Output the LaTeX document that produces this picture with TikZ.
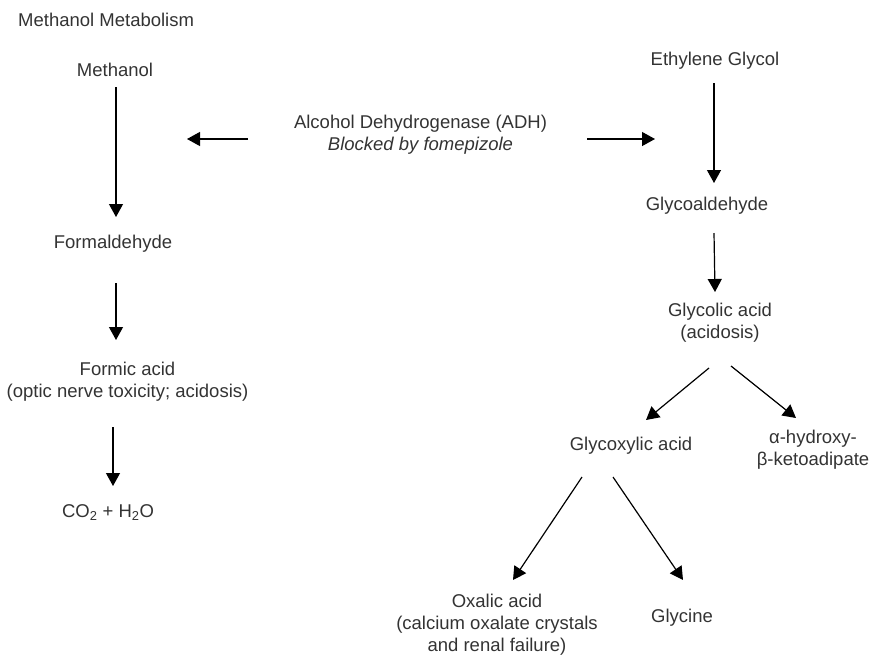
\documentclass[tikz,border=0pt]{standalone}
\usepackage{fontspec}
\setmainfont{Liberation Sans}
\usetikzlibrary{arrows.meta,calc}
\definecolor{txtgray}{HTML}{333333}

\begin{document}
\begin{tikzpicture}[x=1pt,y=-1pt]
            \tikzstyle{every node}+=[inner sep=0pt, text=txtgray, align=center, anchor=base, font=\fontsize{18.5}{22}\selectfont]
            \tikzstyle{arr}=[black, line width=1.2pt, -{Triangle[length=13pt,width=14pt]}]
            \useasboundingbox (0,0) rectangle (869,657);
            % methanol side
            \node [anchor=base west] (title) at (18,26) {Methanol Metabolism};
            \node (methanol) at (115,76) {Methanol};
            \node (formald) at (113,248) {Formaldehyde};
            \node (formic) at (127.5,397) {Formic acid\\(optic nerve toxicity; acidosis)};
            \node (co2) at (108,517) {CO\textsubscript{2} + H\textsubscript{2}O};
            % enzyme
            \node (adh) at (420.5,150) {Alcohol Dehydrogenase (ADH)\\\textit{Blocked by fomepizole}};
            % ethylene glycol side
            \node (ethylene) at (715,65) {Ethylene Glycol};
            \node (glycoald) at (707,210) {Glycoaldehyde};
            \node (glycolic) at (720,338) {Glycolic acid\\(acidosis)};
            \node (glycox) at (631,450) {Glycoxylic acid};
            \node (hydroxy) at (813,465) {α-hydroxy-\\β-ketoadipate};
            \node (oxalic) at (497,651) {Oxalic acid\\(calcium oxalate crystals\\and renal failure)};
            \node (glycine) at (682,622) {Glycine};
            % arrows
            \draw [arr] ($(methanol.base)+(1,11)$) -- ($(formald.base)+(3,-31)$);
            \draw [arr] ($(formald.base)+(3,35)$) -- ($(formic.base)+(-11.5,-57)$);
            \draw [arr] ($(formic.base)+(-14.5,30)$) -- ($(co2.base)+(5,-31)$);
            \draw [arr] ($(adh.base)+(-172.5,-11)$) -- ($(methanol.base)+(72,63)$);
            \draw [arr] ($(adh.base)+(166.5,-11)$) -- ($(ethylene.base)+(-60,74)$);
            \draw [arr] ($(ethylene.base)+(-1,18)$) -- ($(glycoald.base)+(7,-27)$);
            \draw [arr] ($(glycoald.base)+(7,23)$) -- ($(glycolic.base)+(-5,-46)$);
            \draw [arr] ($(glycolic.base)+(-11,30)$) -- ($(glycox.base)+(15,-30)$);
            \draw [arr] ($(glycolic.base)+(11,28)$) -- ($(hydroxy.base)+(-17,-47)$);
            \draw [arr] ($(glycox.base)+(-49,27)$) -- ($(oxalic.base)+(16,-71)$);
            \draw [arr] ($(glycox.base)+(-18,27)$) -- ($(glycine.base)+(1,-42)$);
\end{tikzpicture}
\end{document}
